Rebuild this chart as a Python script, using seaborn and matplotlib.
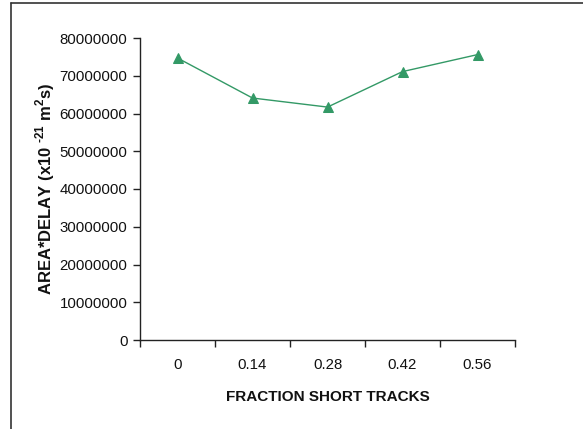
import matplotlib
matplotlib.use("Agg")
import matplotlib.pyplot as plt
import seaborn as sns
import pandas as pd
import numpy as np
from matplotlib.lines import Line2D
from matplotlib.ticker import FixedLocator, NullFormatter, FixedFormatter

categories = ["0", "0.14", "0.28", "0.42", "0.56"]
area_delay = [74700000, 64100000, 61700000, 71100000, 75600000]
yticks = [0, 10000000, 20000000, 30000000, 40000000, 50000000, 60000000, 70000000, 80000000]

sns.set_theme(style="white")
plt.rcParams['font.family'] = ['Liberation Sans', 'DejaVu Sans']
plt.rcParams['mathtext.fontset'] = 'custom'
plt.rcParams['mathtext.rm'] = 'Liberation Sans:bold'
plt.rcParams['mathtext.bf'] = 'Liberation Sans:bold'

df = pd.DataFrame({"pos": np.arange(len(categories)), "val": area_delay})

fig = plt.figure(figsize=(5.83, 4.29), dpi=100)
ax = fig.add_axes([140/583, 1 - 340/429, (515-140)/583, (340-38)/429])

green = "#339966"
sns.lineplot(data=df, x="pos", y="val", ax=ax, color=green, linewidth=1.0,
             marker="^", markersize=7, markeredgecolor=green, markerfacecolor=green)

ax.set_xlim(-0.5, len(categories) - 0.5)
ax.set_ylim(0, 80000000)
ax.set_yticks(yticks)
ax.set_yticklabels([str(v) for v in yticks], fontsize=10.8, color="#111111")

ax.xaxis.set_major_locator(FixedLocator(np.arange(-0.5, len(categories), 1.0)))
ax.xaxis.set_major_formatter(NullFormatter())
ax.xaxis.set_minor_locator(FixedLocator(np.arange(len(categories))))
ax.xaxis.set_minor_formatter(FixedFormatter(categories))
ax.tick_params(axis="x", which="major", length=5, width=1, color="#222222", direction="out", bottom=True)
ax.tick_params(axis="x", which="minor", length=0, labelsize=10.8, pad=13, labelcolor="#111111", bottom=True)
ax.tick_params(axis="y", which="major", length=5, width=1, color="#222222", direction="out", left=True, pad=4)

for s in ["top", "right"]:
    ax.spines[s].set_visible(False)
for s in ["left", "bottom"]:
    ax.spines[s].set_color("#222222")
    ax.spines[s].set_linewidth(1.0)

ax.set_xlabel("FRACTION SHORT TRACKS", fontsize=11, fontweight="bold", labelpad=13, color="#111111")
ax.set_ylabel(r"AREA*DELAY (x10 $^{\text{-21}}$ m$^{\mathbf{2}}$s)", fontsize=12,
              fontweight="bold", labelpad=2, color="#111111")
ax.grid(False)

# figure border (left and top visible)
fig.add_artist(Line2D([11/583, 11/583], [0, 1 - 3/429], transform=fig.transFigure, color="#333333", lw=1.2))
fig.add_artist(Line2D([11/583, 1], [1 - 3/429, 1 - 3/429], transform=fig.transFigure, color="#333333", lw=1.2))

fig.savefig("out.png", dpi=100)
